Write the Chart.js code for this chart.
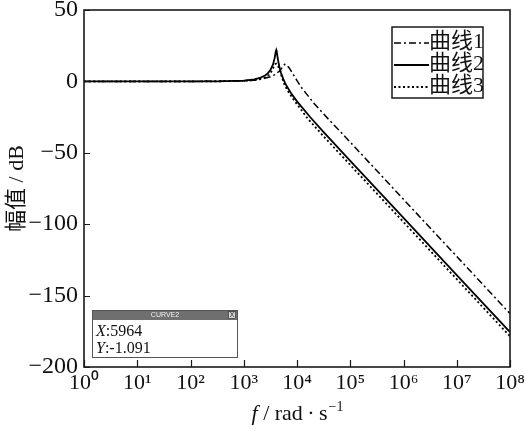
<!DOCTYPE html>
<html>
<head>
<meta charset="utf-8">
<script src="https://cdn.jsdelivr.net/npm/chart.js@4.4.1/dist/chart.umd.min.js"></script>
<style>
  html, body { margin: 0; padding: 0; background: #fff; }
  #wrap { width: 525px; height: 431px; }
</style>
</head>
<body>
<div id="wrap"><canvas id="c" width="525" height="431"></canvas></div>
<script>
// Axis ticks
const freqTicks = [1, 1e1, 1e2, 1e3, 1e4, 1e5, 1e6, 1e7, 1e8];
const dbTicks = [50, 0, -50, -100, -150, -200];
const seriesNames = ['曲线1', '曲线2', '曲线3'];

// Magnitude responses: log10 of frequency (rad/s) and gain in dB
const curve1Exp = [0, 1, 2, 2.5, 3, 3.2, 3.35, 3.5, 3.6, 3.68, 3.73, 3.77, 3.8, 3.85, 3.9, 3.95, 4.0, 4.05, 4.1, 4.2, 4.3, 4.45, 4.6, 4.8, 5, 6, 7, 8];
const curve1Db  = [0, 0, 0, 0.05, 0.3, 0.8, 1.7, 3.2, 5.0, 7.6, 10.2, 12.0, 11.8, 9.6, 6.6, 3.6, 0.6, -2.4, -5.1, -9.8, -14.6, -20.8, -26.8, -34.6, -42.6, -82.6, -122.6, -162.6];

const curve2Exp = [0, 1, 2, 2.5, 3, 3.2, 3.3, 3.4, 3.45, 3.5, 3.55, 3.58, 3.6, 3.611, 3.62, 3.64, 3.67, 3.7, 3.75, 3.8, 3.9, 4, 4.25, 4.5, 5, 6, 7, 8];
const curve2Db  = [0, 0, 0, 0.05, 0.5, 1.4, 2.4, 4.1, 5.6, 7.9, 11.9, 16.3, 20.7, 21.9, 20.7, 15.6, 10.1, 5.9, 1.0, -2.9, -8.9, -14.0, -25.1, -35.5, -55.6, -95.6, -135.6, -175.6];

const curve3Exp = [0, 1, 2, 2.5, 3, 3.2, 3.3, 3.4, 3.47, 3.52, 3.56, 3.59, 3.61, 3.64, 3.68, 3.72, 3.76, 3.8, 3.85, 3.95, 4.05, 4.2, 4.5, 5, 6, 7, 8];
const curve3Db  = [0, 0, 0, 0.05, 0.4, 1.0, 1.7, 2.9, 4.5, 7.0, 10.0, 12.0, 12.4, 11.0, 7.5, 2.5, -1.8, -4.8, -8.0, -13.5, -18.5, -26.0, -38.5, -58.5, -98.5, -138.5, -178.5];

// Data cursor reading on curve 2
const cursorFreq = 5964;
const cursorDb = -1.091;

const toPoints = (exps, dbs) => exps.map((e, i) => ({ x: Math.pow(10, e), y: dbs[i] }));
const curve2Points = toPoints(curve2Exp, curve2Db)
  .concat([{ x: cursorFreq, y: cursorDb }])
  .sort((a, b) => a.x - b.x);

const SERIF = '"Liberation Serif", "Times New Roman", "Noto Sans CJK SC", serif';
const SUP = { '0': '⁰', '1': '¹', '2': '²', '3': '³', '4': '⁴', '5': '⁵', '6': '⁶', '7': '⁷', '8': '⁸', '9': '⁹', '-': '⁻' };
const supText = s => String(s).split('').map(ch => SUP[ch] || ch).join('');

// Box frame with inward ticks on bottom and left edges
const framePlugin = {
  id: 'frame',
  afterDatasetsDraw(chart) {
    const { ctx, chartArea: a, scales: { x, y } } = chart;
    ctx.save();
    ctx.strokeStyle = '#1a1a1a';
    ctx.lineWidth = 1.6;
    ctx.strokeRect(a.left, a.top, a.right - a.left, a.bottom - a.top);
    ctx.lineWidth = 1.2;
    ctx.beginPath();
    x.ticks.forEach(t => {
      const px = Math.round(x.getPixelForValue(t.value)) + 0.5;
      ctx.moveTo(px, a.bottom);
      ctx.lineTo(px, a.bottom - 7);
    });
    y.ticks.forEach(t => {
      const py = Math.round(y.getPixelForValue(t.value)) + 0.5;
      ctx.moveTo(a.left, py);
      ctx.lineTo(a.left + 6, py);
    });
    ctx.stroke();
    ctx.restore();
  }
};

// Legend box in the upper right of the plot
const legendPlugin = {
  id: 'boxLegend',
  afterDraw(chart) {
    const { ctx, chartArea: a } = chart;
    const left = a.right - 118, right = a.right - 27, top = a.top + 17, bottom = a.top + 88;
    ctx.save();
    ctx.fillStyle = '#fff';
    ctx.fillRect(left, top, right - left, bottom - top);
    ctx.strokeStyle = '#1a1a1a';
    ctx.lineWidth = 1.5;
    ctx.strokeRect(left, top, right - left, bottom - top);
    chart.data.datasets.forEach((ds, i) => {
      const cy = top + 15 + i * 22;
      ctx.beginPath();
      ctx.setLineDash(ds.borderDash || []);
      ctx.lineWidth = ds.borderWidth;
      ctx.strokeStyle = ds.borderColor;
      ctx.moveTo(left + 2, cy + 1);
      ctx.lineTo(left + 37, cy + 1);
      ctx.stroke();
      ctx.setLineDash([]);
      ctx.fillStyle = '#111';
      ctx.font = '22px ' + SERIF;
      ctx.textBaseline = 'middle';
      ctx.textAlign = 'left';
      ctx.fillText(ds.label, left + 37, cy);
    });
    ctx.restore();
  }
};

// Data cursor readout panel and x-axis title
const overlayPlugin = {
  id: 'overlay',
  afterDraw(chart) {
    const { ctx, chartArea: a } = chart;
    ctx.save();
    // readout panel
    const l = a.left + 8, r = a.left + 154, t = a.bottom - 57, b = a.bottom - 9;
    ctx.fillStyle = '#fff';
    ctx.fillRect(l, t, r - l, b - t);
    ctx.fillStyle = '#6f6f6f';
    ctx.fillRect(l, t, r - l, 10);
    ctx.fillStyle = '#d6d6d6';
    ctx.fillRect(r - 10, t + 1, 8, 8);
    ctx.strokeStyle = '#333';
    ctx.lineWidth = 0.8;
    ctx.strokeRect(r - 10 + 0.5, t + 1.5, 7, 7);
    ctx.fillStyle = '#222';
    ctx.font = '7px "Liberation Sans", sans-serif';
    ctx.textAlign = 'center';
    ctx.textBaseline = 'middle';
    ctx.fillText('X', r - 6, t + 5.5);
    ctx.fillStyle = '#f2f2f2';
    ctx.font = '7px "Liberation Sans", sans-serif';
    ctx.fillText('CURVE2', (l + r) / 2, t + 5.5);
    ctx.strokeStyle = '#555';
    ctx.lineWidth = 1;
    ctx.strokeRect(l + 0.5, t + 0.5, r - l - 1, b - t - 1);
    ctx.textAlign = 'left';
    ctx.textBaseline = 'alphabetic';
    ctx.fillStyle = '#111';
    const drawReading = (name, val, baseY) => {
      ctx.font = 'italic 16px ' + SERIF;
      ctx.fillText(name, l + 4, baseY);
      const w = ctx.measureText(name).width;
      ctx.font = '16px ' + SERIF;
      ctx.fillText(':' + val, l + 4 + w, baseY);
    };
    drawReading('X', String(cursorFreq), t + 26);
    drawReading('Y', String(cursorDb), t + 43);

    // x-axis title: f / rad·s⁻¹
    const cx = (a.left + a.right) / 2;
    const ty = a.bottom + 47;
    ctx.font = 'italic 22px ' + SERIF;
    const fW = ctx.measureText('f').width;
    ctx.font = '22px ' + SERIF;
    const rest = ' / rad\u2009·\u2009s';
    const restW = ctx.measureText(rest).width;
    ctx.font = '14px ' + SERIF;
    const supW = ctx.measureText('−1').width;
    let x0 = cx - (fW + restW + supW) / 2;
    ctx.textBaseline = 'middle';
    ctx.font = 'italic 22px ' + SERIF;
    ctx.fillStyle = '#111';
    ctx.fillText('f', x0, ty);
    x0 += fW;
    ctx.font = '22px ' + SERIF;
    ctx.fillText(rest, x0, ty);
    x0 += restW;
    ctx.font = '14px ' + SERIF;
    ctx.fillText('−1', x0 + 1, ty - 7);
    ctx.restore();
  }
};

new Chart(document.getElementById('c'), {
  type: 'scatter',
  data: {
    datasets: [
      { label: seriesNames[0], data: toPoints(curve1Exp, curve1Db), showLine: true,
        borderColor: '#000', borderWidth: 1.5, borderDash: [7, 3, 2, 3], pointRadius: 0 },
      { label: seriesNames[1], data: curve2Points, showLine: true,
        borderColor: '#000', borderWidth: 1.8, pointRadius: 0 },
      { label: seriesNames[2], data: toPoints(curve3Exp, curve3Db), showLine: true,
        borderColor: '#000', borderWidth: 1.8, borderDash: [2, 2.5], pointRadius: 0 }
    ]
  },
  options: {
    responsive: false,
    devicePixelRatio: 1,
    animation: false,
    layout: { padding: { top: 10, right: 15, left: 0, bottom: 0 } },
    elements: { line: { tension: 0 } },
    plugins: { legend: { display: false }, tooltip: { enabled: false } },
    scales: {
      x: {
        type: 'logarithmic',
        min: 1, max: 1e8,
        afterBuildTicks: s => { s.ticks = freqTicks.map(v => ({ value: v })); },
        afterFit: s => { s.height = 64; s.paddingLeft = 0; s.paddingRight = 0; },
        ticks: {
          autoSkip: false, maxRotation: 0, padding: 3,
          color: '#111',
          font: { family: SERIF, size: 22 },
          callback: v => '10' + supText(Math.round(Math.log10(v)))
        },
        grid: { display: false, drawTicks: false },
        border: { display: false }
      },
      y: {
        min: -200, max: 50,
        afterBuildTicks: s => { s.ticks = dbTicks.map(v => ({ value: v })); },
        afterFit: s => { s.width = 84; s.paddingTop = 0; s.paddingBottom = 0; },
        ticks: {
          padding: 6,
          color: '#111',
          font: { family: SERIF, size: 24 },
          callback: v => (v < 0 ? '−' + Math.abs(v) : String(v))
        },
        grid: { display: false, drawTicks: false },
        border: { display: false },
        title: {
          display: true, text: '幅值 / dB', color: '#111',
          font: { family: SERIF, size: 22 },
          padding: { top: 4, bottom: 0 }
        }
      }
    }
  },
  plugins: [framePlugin, legendPlugin, overlayPlugin]
});
</script>
</body>
</html>
